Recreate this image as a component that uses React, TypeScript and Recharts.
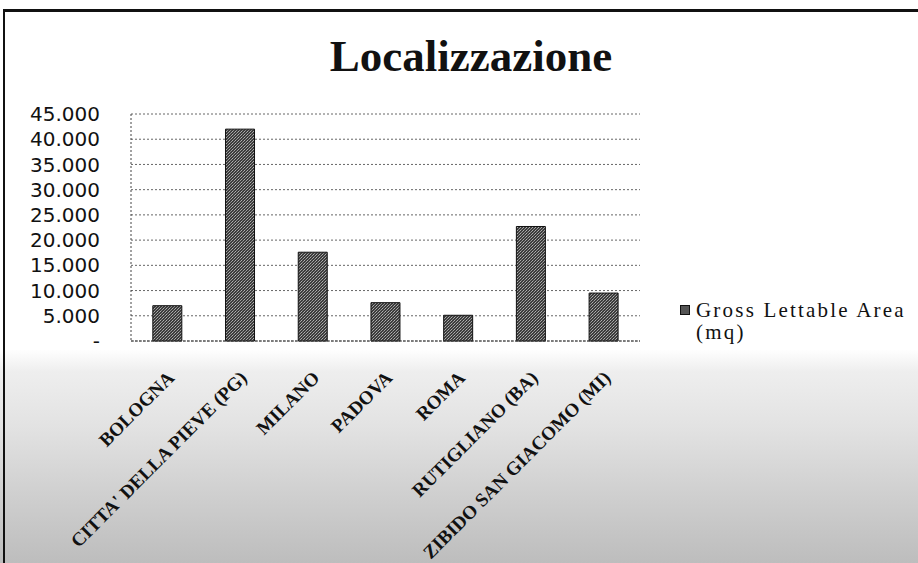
import React from 'react';
import { BarChart, Bar, XAxis, YAxis, CartesianGrid, Legend } from 'recharts';

const cities = [
    'BOLOGNA',
    "CITTA' DELLA PIEVE (PG)",
    'MILANO',
    'PADOVA',
    'ROMA',
    'RUTIGLIANO (BA)',
    'ZIBIDO SAN GIACOMO (MI)',
];
const grossLettableArea = [7000, 42000, 17600, 7600, 5100, 22700, 9500];
const yTicks = [0, 5000, 10000, 15000, 20000, 25000, 30000, 35000, 40000, 45000];
const seriesName = 'Gross Lettable Area (mq)';

const data = cities.map((name, i) => ({ name, gla: grossLettableArea[i] }));

const fmt = (v: number) => (v === 0 ? '-' : v.toLocaleString('de-DE'));

const serif = '"Liberation Serif", "Times New Roman", serif';

function CityTick(props: any) {
    const { x, y, payload } = props;
    const ax = x + 8;
    const ay = y + 30;
    return (
        <text
            x={ax}
            y={ay}
            transform={`rotate(-45, ${ax}, ${ay})`}
            textAnchor="end"
            fontFamily={serif}
            fontSize={19}
            fontWeight="bold"
            fill="#111"
        >
            {payload.value}
        </text>
    );
}

function LegendBox() {
    return (
        <div style={{ fontFamily: serif, fontSize: 21, color: '#111', lineHeight: '22px', letterSpacing: 2.2 }}>
            <div style={{ display: 'flex', alignItems: 'center' }}>
                <span style={{ width: 8, height: 8, background: '#555', border: '1px solid #111', marginRight: 6 }} />
                <span>Gross Lettable Area</span>
            </div>
            <div style={{ paddingLeft: 16 }}>(mq)</div>
        </div>
    );
}

export default function App() {
    return (
        <div
            style={{
                position: 'absolute',
                left: 0,
                top: 0,
                width: 918,
                height: 563,
                overflow: 'hidden',
                background:
                    'linear-gradient(to bottom, #fff 0%, #fff 62%, #eeeeee 66%, #e2e2e2 76%, #cfcfcf 88%, #bdbdbd 100%)',
            }}
        >
            <div
                style={{
                    position: 'absolute',
                    left: 3,
                    top: 9,
                    width: 930,
                    height: 600,
                    borderTop: '3px solid #111',
                    borderLeft: '2px solid #111',
                }}
            />
            <div
                style={{
                    position: 'absolute',
                    left: 0,
                    width: 918,
                    top: 30,
                    textAlign: 'center',
                    paddingLeft: 12,
                    fontFamily: serif,
                    fontWeight: 'bold',
                    fontSize: 45,
                    color: '#111',
                }}
            >
                Localizzazione
            </div>
            <BarChart
                width={918}
                height={563}
                data={data}
                barCategoryGap="30%"
                margin={{ top: 114, right: 38, left: 0, bottom: 22 }}
            >
                <defs>
                    <pattern id="dither" width="3" height="3" patternUnits="userSpaceOnUse">
                        <rect width="3" height="3" fill="#3c3c3c" />
                        <rect x="0" y="0" width="1" height="1" fill="#a0a0a0" />
                        <rect x="2" y="1" width="1" height="1" fill="#8a8a8a" />
                        <rect x="1" y="2" width="1" height="1" fill="#b0b0b0" />
                    </pattern>
                </defs>
                <CartesianGrid vertical={false} strokeDasharray="2 2" stroke="#666" />
                <XAxis
                    dataKey="name"
                    interval={0}
                    height={200}
                    tick={<CityTick />}
                    tickLine={false}
                    axisLine={{ stroke: '#444', strokeDasharray: '3 1' }}
                />
                <YAxis
                    width={131}
                    domain={[0, 45000]}
                    ticks={yTicks}
                    interval={0}
                    tickFormatter={fmt}
                    tickSize={0}
                    tickMargin={31}
                    axisLine={{ stroke: '#444', strokeDasharray: '2 2' }}
                    tick={{ fontFamily: '"DejaVu Sans", sans-serif', fontSize: 20, fill: '#111' }}
                />
                <Legend
                    layout="horizontal"
                    verticalAlign="middle"
                    align="right"
                    content={<LegendBox />}
                    wrapperStyle={{ left: 680, top: 299, right: 'auto', width: 240 }}
                />
                <Bar
                    dataKey="gla"
                    name={seriesName}
                    fill="url(#dither)"
                    stroke="#111"
                    strokeWidth={1}
                    isAnimationActive={false}
                />
            </BarChart>
        </div>
    );
}
